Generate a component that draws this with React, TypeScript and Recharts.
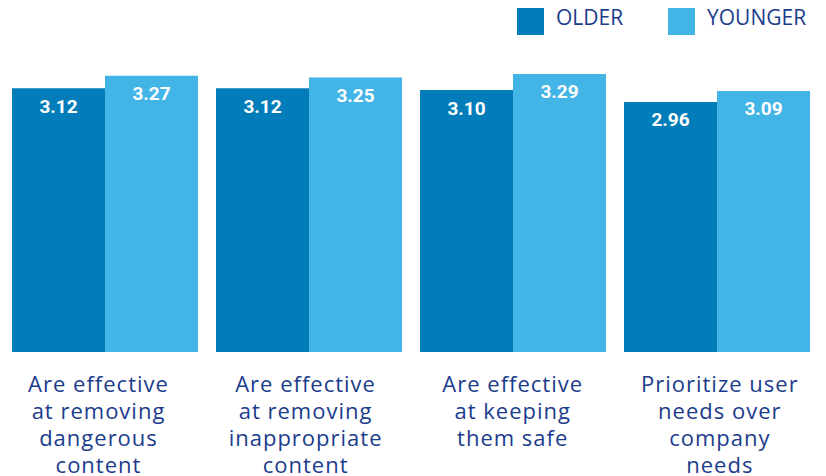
import React from 'react';
import { BarChart, Bar, XAxis, YAxis, LabelList, Legend } from 'recharts';

const categories = [
  'Are effective at removing dangerous content',
  'Are effective at removing inappropriate content',
  'Are effective at keeping them safe',
  'Prioritize user needs over company needs',
];
const categoryLines = [
  ['Are effective', 'at removing', 'dangerous', 'content'],
  ['Are effective', 'at removing', 'inappropriate', 'content'],
  ['Are effective', 'at keeping', 'them safe'],
  ['Prioritize user', 'needs over', 'company', 'needs'],
];
const olderValues = [3.12, 3.12, 3.1, 2.96];
const youngerValues = [3.27, 3.25, 3.29, 3.09];
const seriesNames = ['OLDER', 'YOUNGER'];

const OLDER_COLOR = '#037dba';
const YOUNGER_COLOR = '#42b4e5';
const TEXT_COLOR = '#1b3c8c';

const data = categories.map((c, i) => ({
  category: c,
  older: olderValues[i],
  younger: youngerValues[i],
}));

const CategoryTick = (props: any) => {
  const { x, y, payload } = props;
  const idx = payload.index;
  const lines = categoryLines[idx] || [payload.value];
  const cx = x - 6 + 3.1 * idx;
  return (
    <text
      x={cx}
      y={y}
      textAnchor="middle"
      fill={TEXT_COLOR}
      fontFamily="'Open Sans', sans-serif"
      fontSize={22}
      letterSpacing={1}
    >
      {lines.map((l: string, i: number) => (
        <tspan key={i} x={cx} y={y + 32 + i * 27}>
          {l}
        </tspan>
      ))}
    </text>
  );
};

const LegendContent = () => {
  const items = [
    { name: seriesNames[0], color: OLDER_COLOR, left: 517, textLeft: 556 },
    { name: seriesNames[1], color: YOUNGER_COLOR, left: 668, textLeft: 707 },
  ];
  return (
    <div style={{ position: 'relative', width: 826, height: 45 }}>
      {items.map((it) => (
        <React.Fragment key={it.name}>
          <div
            style={{
              position: 'absolute',
              left: it.left,
              top: 8,
              width: 27,
              height: 27,
              background: it.color,
            }}
          />
          <div
            style={{
              position: 'absolute',
              left: it.textLeft,
              top: 4,
              fontFamily: "'Open Sans', sans-serif",
              fontSize: 21,
              lineHeight: '27px',
              color: TEXT_COLOR,
            }}
          >
            {it.name}
          </div>
        </React.Fragment>
      ))}
    </div>
  );
};

export default function App() {
  return (
    <div style={{ position: 'absolute', left: 0, top: 0, width: 826, height: 476, background: '#fff' }}>
      <BarChart
        width={826}
        height={476}
        data={data}
        margin={{ top: 11.25, right: 7.5, bottom: 0, left: 2.5 }}
        barCategoryGap={9.5}
        barGap={0}
      >
        <XAxis
          dataKey="category"
          axisLine={false}
          tickLine={false}
          height={124}
          interval={0}
          tick={<CategoryTick />}
        />
        <YAxis hide domain={[0, 3.5]} />
        <Legend
          verticalAlign="top"
          height={45}
          content={<LegendContent />}
          wrapperStyle={{ position: 'absolute', left: 0, top: 0, width: 826, height: 45 }}
        />
        <Bar dataKey="older" name={seriesNames[0]} fill={OLDER_COLOR} isAnimationActive={false}>
          <LabelList
            dataKey="older"
            position="insideTop"
            offset={11}
            fill="#ffffff"
            fontFamily="Roboto, sans-serif"
            fontWeight={700}
            fontSize={19}
            formatter={(v: any) => Number(v).toFixed(2)}
          />
        </Bar>
        <Bar dataKey="younger" name={seriesNames[1]} fill={YOUNGER_COLOR} isAnimationActive={false}>
          <LabelList
            dataKey="younger"
            position="insideTop"
            offset={11}
            fill="#ffffff"
            fontFamily="Roboto, sans-serif"
            fontWeight={700}
            fontSize={19}
            formatter={(v: any) => Number(v).toFixed(2)}
          />
        </Bar>
      </BarChart>
    </div>
  );
}
